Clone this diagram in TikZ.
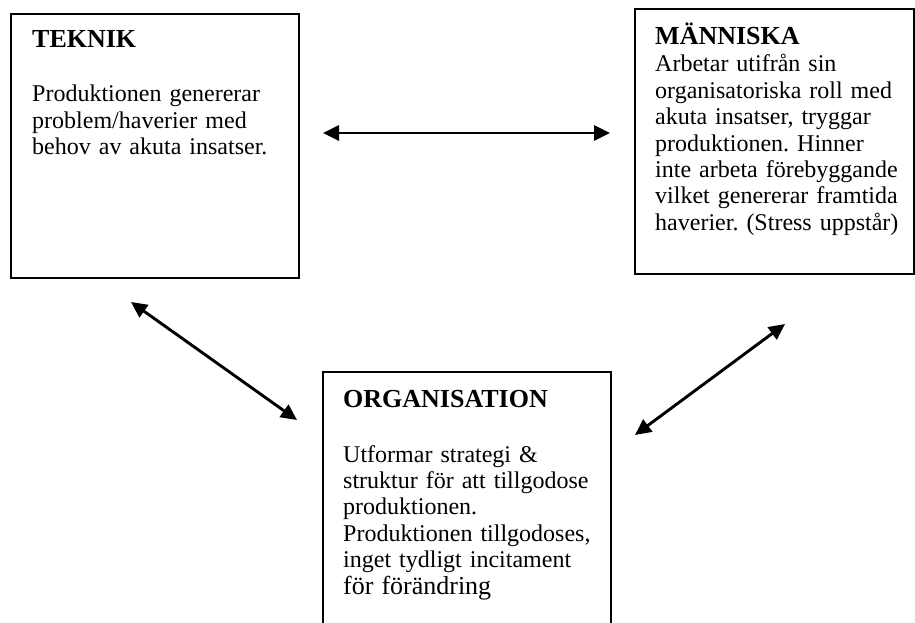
\documentclass[tikz,border=0pt]{standalone}
\usepackage{fontspec}
\setmainfont{Liberation Serif}
\frenchspacing
\usetikzlibrary{arrows.meta}
\tikzset{
  box/.style={draw, line width=1.9pt, anchor=north west, inner sep=0pt},
  boxtitle/.style={anchor=base west, inner sep=0pt, font=\bfseries\fontsize{26}{28}\selectfont},
  boxtext/.style={anchor=base west, inner sep=0pt, align=left, text width=270pt,
    font=\fontsize{24}{26.4}\selectfont},
  link/.style={line width=2.9pt, {Triangle[length=16pt,width=15pt]}-{Triangle[length=16pt,width=15pt]}}
}

\begin{document}
\begin{tikzpicture}[x=1pt,y=-1pt]
  \useasboundingbox (0,0) rectangle (915,623);
  \clip (0,0) rectangle (915,623);
  % boxes
  \node[box, minimum width=288pt, minimum height=264pt] (teknik) at (10,13) {};
  \node[box, minimum width=279pt, minimum height=265pt] (manniska) at (634,8) {};
  \node[box, minimum width=288pt, minimum height=300pt] (organisation) at (322,371) {};
  % texts
  \node[boxtitle] (teknikT) at (32,48) {TEKNIK};
  \node[boxtext] (teknikB) at (32,102) {Produktionen genererar\\
    problem/haverier med\\behov av akuta insatser.};
  \node[boxtitle] (manniskaT) at (655,45) {MÄNNISKA};
  \node[boxtext] (manniskaB) at (655,72) {Arbetar utifrån sin\\
    organisatoriska roll med\\akuta insatser, tryggar\\produktionen. Hinner\\
    inte arbeta förebyggande\\vilket genererar framtida\\haverier. (Stress uppstår)};
  \node[boxtitle] (organisationT) at (343,407) {ORGANISATION};
  \node[boxtext] (organisationB) at (343,462) {Utformar strategi \&\\
    struktur för att tillgodose\\produktionen.\\Produktionen tillgodoses,\\
    inget tydligt incitament\\{\fontsize{26}{26.4}\selectfont för förändring}};
  % arrow ends
  \coordinate (tekR) at (323,133);
  \coordinate (manL) at (610,133);
  \coordinate (tekB) at (131,302);
  \coordinate (orgL) at (297,420);
  \coordinate (manB) at (785,324);
  \coordinate (orgR) at (635,435);
  % links
  \draw[link] (tekR) -- (manL);
  \draw[link] (tekB) -- (orgL);
  \draw[link] (manB) -- (orgR);
\end{tikzpicture}
\end{document}
